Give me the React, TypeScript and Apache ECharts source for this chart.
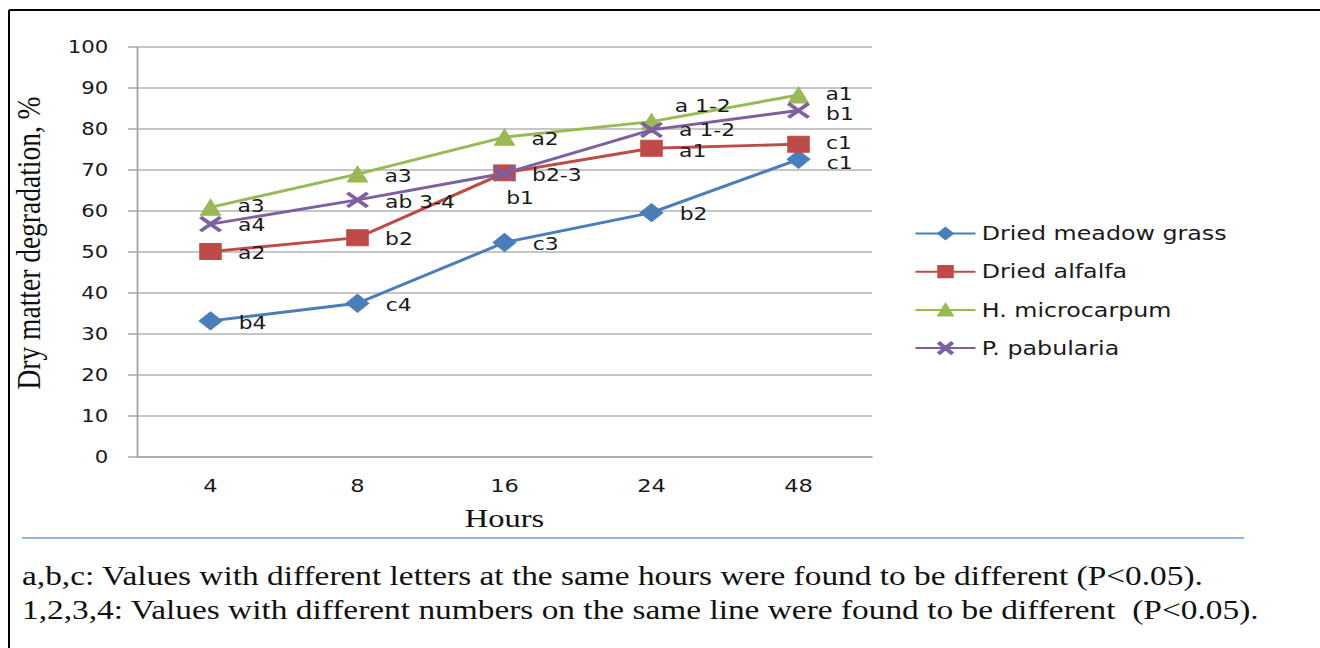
import React, { useEffect, useRef } from "react";
import * as echarts from "echarts";

const hours = ["4", "8", "16", "24", "48"];
const seriesNames = ["Dried meadow grass", "Dried alfalfa", "H. microcarpum", "P. pabularia"];
const meadowGrass = [33.2, 37.5, 52.3, 59.6, 72.6];
const alfalfa = [50.1, 53.5, 69.3, 75.3, 76.3];
const microcarpum = [60.9, 69.0, 78.0, 81.8, 88.3];
const pabularia = [56.8, 62.7, 69.2, 79.8, 84.5];
const meadowLabels = ["b4", "c4", "c3", "b2", "c1"];
const alfalfaLabels = ["a2", "b2", "b1", "a1", "c1"];
const microLabels = ["a3", "a3", "a2", "a 1-2", "a1"];
const pabLabels = ["a4", "ab 3-4", "b2-3", "a 1-2", "b1"];
const yTicks = [0, 10, 20, 30, 40, 50, 60, 70, 80, 90, 100];
const footnotes = [
  "a,b,c: Values with different letters at the same hours were found to be different (P<0.05).",
  "1,2,3,4: Values with different numbers on the same line were found to be different  (P<0.05).",
];

// horizontal stretch of the reference picture
const S = 1.25;
const W = 1320 / S;
const H = 648;

const COLORS = ["#4a7ebb", "#be4b48", "#98b954", "#7d60a0"];
const XMARK = "path://M2,0 L10,7 L18,0 L20,2 L12,9 L20,16 L18,18 L10,11 L2,18 L0,16 L8,9 L0,2 Z";

const defaultOffset = [8, 2];
const specialOffsets: Record<string, number[]> = {
  "0-4": [8, 4], // Dried meadow grass, 48 h
  "1-2": [-12.7, 25], // Dried alfalfa, 16 h
  "1-3": [8, 3], // Dried alfalfa, 24 h
  "1-4": [8, -1],
  "2-0": [8, -1], // H. microcarpum, 4 h
  "2-3": [5, -15],
  "2-4": [8, -1],
  "3-0": [8, 1], // P. pabularia, 4 h
  "3-3": [8, 0],
  "3-4": [8, 4],
};

export default function App() {
  const ref = useRef<HTMLDivElement>(null);
  useEffect(() => {
    if (!ref.current) return;
    const chart = echarts.init(ref.current, null, { renderer: "svg" });
    const labelFont = {
      fontFamily: "DejaVu Sans",
      fontSize: 17.5,
      lineHeight: 13,
      color: "#1a1a1a",
    };
    const mk = (si: number, values: number[], labels: string[], symbol: string, size: number[]) => ({
      name: seriesNames[si],
      type: "line",
      data: values.map((v, i) => {
        const off = specialOffsets[`${si}-${i}`] || defaultOffset;
        return {
          value: v,
          label: { show: true, position: "right", distance: 5, offset: off, formatter: labels[i], ...labelFont },
        };
      }),
      symbol,
      symbolSize: size,
      symbolKeepAspect: false,
      lineStyle: { color: COLORS[si], width: 2.9 },
      itemStyle: { color: COLORS[si], borderColor: COLORS[si], borderWidth: 1 },
      z: 3 + si,
    });
    const option = {
      animation: false,
      backgroundColor: "#ffffff",
      color: COLORS,
      grid: { left: 137 / S, right: W - 872 / S, top: 47, bottom: H - 457, containLabel: false },
      legend: {
        orient: "vertical",
        left: 908 / S,
        top: 219,
        itemWidth: 60 / S,
        itemHeight: 14,
        itemGap: 19.2,
        data: seriesNames,
        textStyle: { fontFamily: "DejaVu Sans", fontSize: 19, color: "#1a1a1a", lineHeight: 14 },
      },
      xAxis: {
        type: "category",
        data: hours,
        boundaryGap: true,
        axisLine: { show: true, lineStyle: { color: "#a6a6a6", width: 1.5 } },
        axisTick: { show: false },
        axisLabel: { margin: 20, fontFamily: "DejaVu Sans", fontSize: 18, color: "#1a1a1a" },
        name: "Hours",
        nameLocation: "middle",
        nameGap: 48,
        nameTextStyle: { fontFamily: "Liberation Serif", fontSize: 26, color: "#111" },
      },
      yAxis: {
        type: "value",
        min: yTicks[0],
        max: yTicks[yTicks.length - 1],
        interval: 10,
        axisLine: { show: true, lineStyle: { color: "#a6a6a6", width: 1.5 } },
        axisTick: { show: true, length: 9 / S, lineStyle: { color: "#a6a6a6", width: 1.5 } },
        splitLine: { show: true, lineStyle: { color: "#b3b3b3", width: 1.5 } },
        axisLabel: { margin: 23, fontFamily: "DejaVu Sans", fontSize: 17, color: "#1a1a1a" },
        name: "Dry matter degradation, %",
        nameLocation: "middle",
        nameRotate: 90,
        nameGap: 73,
        nameTextStyle: { fontFamily: "Liberation Serif", fontSize: 27.5, color: "#111", padding: [0, 0, 0, 18] },
      },
      series: [
        mk(0, meadowGrass, meadowLabels, "diamond", [18, 18]),
        mk(1, alfalfa, alfalfaLabels, "rect", [17, 16]),
        mk(2, microcarpum, microLabels, "triangle", [16, 16]),
        mk(3, pabularia, pabLabels, XMARK, [17, 15]),
      ],
      graphic: [
        { type: "line", shape: { x1: 7.2, y1: 10, x2: W, y2: 10 }, style: { stroke: "#000", lineWidth: 2 } },
        { type: "line", shape: { x1: 7.2, y1: 10, x2: 7.2, y2: H }, style: { stroke: "#000", lineWidth: 1.6 } },
        { type: "line", shape: { x1: 22 / S, y1: 538, x2: 1244 / S, y2: 538 }, style: { stroke: "#6f9ad6", lineWidth: 1.5 } },
        ...footnotes.map((t, i) => ({
          type: "text",
          left: 22 / S,
          top: 578 + i * 34 - 15,
          style: { text: t, fontFamily: "Liberation Serif", fontSize: 26.7, fill: "#111" },
        })),
      ],
    };
    chart.setOption(option as any);
    return () => chart.dispose();
  }, []);
  return (
    <div style={{ position: "fixed", left: 0, top: 0, width: 1320, height: H, overflow: "hidden", background: "#fff" }}>
      <div
        ref={ref}
        style={{ width: W, height: H, transform: `scaleX(${S})`, transformOrigin: "0 0" }}
      />
    </div>
  );
}
